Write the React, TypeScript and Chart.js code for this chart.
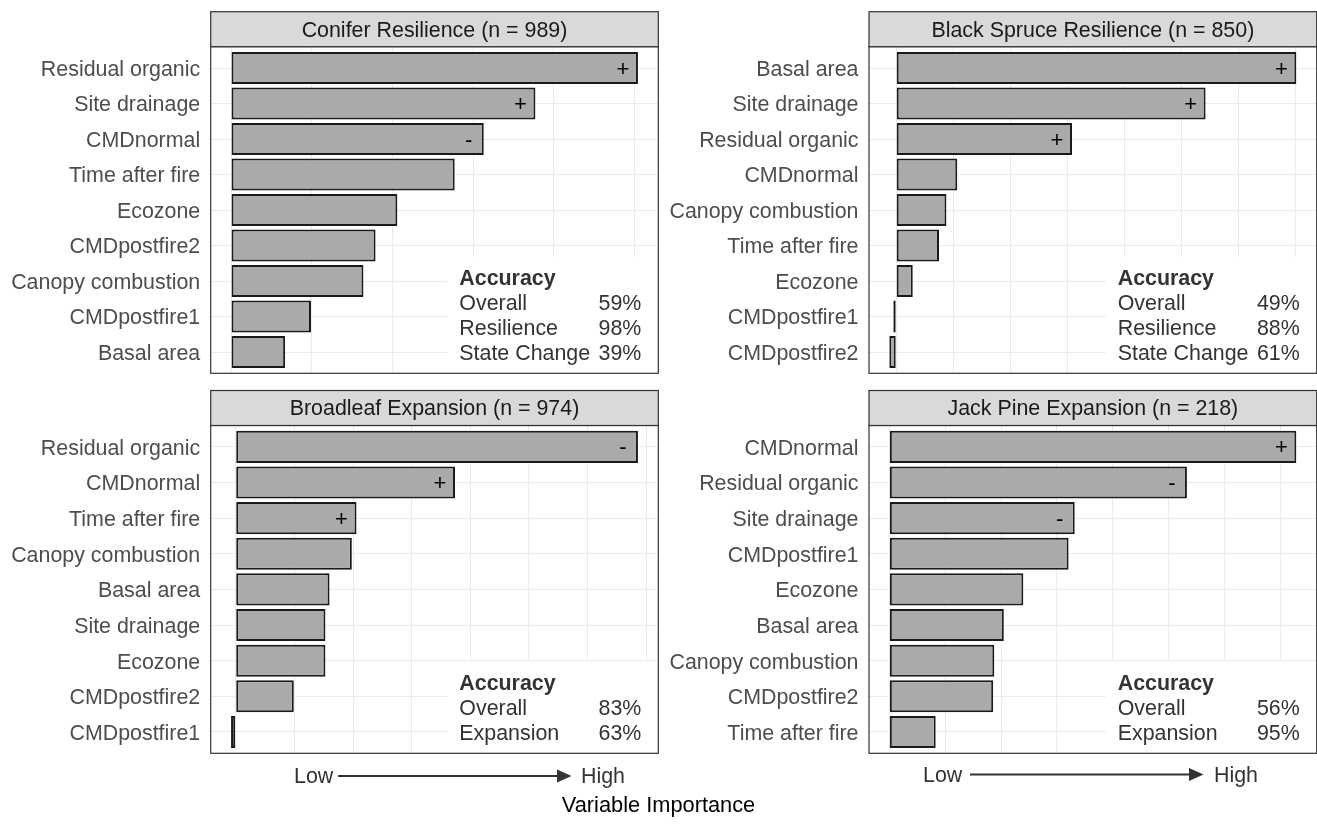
import React, { useEffect, useRef } from "react";
import { Chart, registerables } from "chart.js";

Chart.register(...registerables);

const FONT = '"Liberation Sans", Arial, Helvetica, sans-serif';

// ---------- data ----------
const coniferTitle = "Conifer Resilience (n = 989)";
const coniferLabels = ["Residual organic", "Site drainage", "CMDnormal", "Time after fire", "Ecozone", "CMDpostfire2", "Canopy combustion", "CMDpostfire1", "Basal area"];
const coniferValues = [5.04, 3.77, 3.13, 2.77, 2.06, 1.79, 1.64, 0.99, 0.67];
const coniferSigns = ["+", "+", "-", "", "", "", "", "", ""];
const coniferAcc = ["59%", "98%", "39%"];

const spruceTitle = "Black Spruce Resilience (n = 850)";
const spruceLabels = ["Basal area", "Site drainage", "Residual organic", "CMDnormal", "Canopy combustion", "Time after fire", "Ecozone", "CMDpostfire1", "CMDpostfire2"];
const spruceValues = [7.01, 5.42, 3.08, 1.07, 0.88, 0.75, 0.29, -0.05, -0.12];
const spruceSigns = ["+", "+", "+", "", "", "", "", "", ""];
const spruceAcc = ["49%", "88%", "61%"];

const broadleafTitle = "Broadleaf Expansion (n = 974)";
const broadleafLabels = ["Residual organic", "CMDnormal", "Time after fire", "Canopy combustion", "Basal area", "Site drainage", "Ecozone", "CMDpostfire2", "CMDpostfire1"];
const broadleafValues = [6.86, 3.74, 2.06, 1.98, 1.6, 1.53, 1.53, 0.99, -0.08];
const broadleafSigns = ["-", "+", "+", "", "", "", "", "", ""];
const broadleafAcc = ["83%", "63%"];

const jackPineTitle = "Jack Pine Expansion (n = 218)";
const jackPineLabels = ["CMDnormal", "Residual organic", "Site drainage", "CMDpostfire1", "Ecozone", "Basal area", "Canopy combustion", "CMDpostfire2", "Time after fire"];
const jackPineValues = [7.29, 5.33, 3.32, 3.21, 2.4, 2.05, 1.88, 1.86, 0.83];
const jackPineSigns = ["+", "-", "-", "", "", "", "", "", ""];
const jackPineAcc = ["56%", "95%"];

const resilienceAccLabels = ["Overall", "Resilience", "State Change"];
const expansionAccLabels = ["Overall", "Expansion"];
const accuracyHeader = "Accuracy";
const lowLabel = "Low";
const highLabel = "High";
const axisTitle = "Variable Importance";

// ---------- layout ----------
type Spec = {
  title: string;
  labels: string[];
  values: number[];
  signs: string[];
  accLabels: string[];
  accValues: string[];
  x: number;
  y: number;
  w: number;
  h: number;
  axisW: number;
  padTop: number;
  padBottom: number;
  padRight: number;
};

const panels: Spec[] = [
  { title: coniferTitle, labels: coniferLabels, values: coniferValues, signs: coniferSigns, accLabels: resilienceAccLabels, accValues: coniferAcc, x: 0, y: 0, w: 660, h: 380, axisW: 210.7, padTop: 46.7, padBottom: 6.7, padRight: 1.7 },
  { title: spruceTitle, labels: spruceLabels, values: spruceValues, signs: spruceSigns, accLabels: resilienceAccLabels, accValues: spruceAcc, x: 660, y: 0, w: 657, h: 380, axisW: 209, padTop: 46.7, padBottom: 6.7, padRight: 0.3 },
  { title: broadleafTitle, labels: broadleafLabels, values: broadleafValues, signs: broadleafSigns, accLabels: expansionAccLabels, accValues: broadleafAcc, x: 0, y: 380, w: 660, h: 390, axisW: 210.7, padTop: 45.5, padBottom: 16.7, padRight: 1.7 },
  { title: jackPineTitle, labels: jackPineLabels, values: jackPineValues, signs: jackPineSigns, accLabels: expansionAccLabels, accValues: jackPineAcc, x: 660, y: 380, w: 657, h: 390, axisW: 209, padTop: 45.5, padBottom: 16.7, padRight: 0.3 },
];

const STRIP_H = 35;
const FS = 21.4;

function decorPlugin(spec: Spec) {
  const boxGeom = (ca: any) => {
    const n = spec.accLabels.length + 1;
    const lastY = ca.bottom - 21;
    const firstY = lastY - (n - 1) * 25;
    return { firstY, boxTop: firstY - 21, boxLeft: ca.right - 211 };
  };
  return {
    id: "decor",
    beforeDatasetsDraw(chart: any) {
      const { ctx, chartArea: ca } = chart;
      const g = boxGeom(ca);
      ctx.save();
      ctx.fillStyle = "#ffffff";
      ctx.fillRect(g.boxLeft, g.boxTop, ca.right - g.boxLeft, ca.bottom - g.boxTop);
      ctx.restore();
    },
    afterDatasetsDraw(chart: any) {
      const { ctx, chartArea: ca } = chart;
      ctx.save();
      // importance direction signs
      const meta = chart.getDatasetMeta(0);
      ctx.font = `22px ${FONT}`;
      ctx.fillStyle = "#000000";
      ctx.textAlign = "center";
      ctx.textBaseline = "middle";
      meta.data.forEach((el: any, i: number) => {
        const s = spec.signs[i];
        if (s) ctx.fillText(s, el.x - 15, el.y + 1.5);
      });
      // accuracy table
      const g = boxGeom(ca);
      const tx = ca.right - 199;
      const rx = ca.right - 17;
      const dy = 1.5;
      ctx.fillStyle = "#333333";
      ctx.textAlign = "left";
      ctx.font = `bold ${FS}px ${FONT}`;
      ctx.fillText(accuracyHeader, tx, g.firstY + dy);
      ctx.font = `${FS}px ${FONT}`;
      spec.accLabels.forEach((lab, i) => {
        const y = g.firstY + (i + 1) * 25 + dy;
        ctx.textAlign = "left";
        ctx.fillText(lab, tx, y);
        ctx.textAlign = "right";
        ctx.fillText(spec.accValues[i], rx, y);
      });
      ctx.restore();
    },
    afterDraw(chart: any) {
      const { ctx, chartArea: ca } = chart;
      ctx.save();
      ctx.strokeStyle = "#333333";
      ctx.lineWidth = 1.2;
      ctx.strokeRect(ca.left, ca.top, ca.right - ca.left, ca.bottom - ca.top);
      // strip
      const st = ca.top - STRIP_H;
      ctx.fillStyle = "#d9d9d9";
      ctx.fillRect(ca.left, st, ca.right - ca.left, STRIP_H);
      ctx.strokeRect(ca.left, st, ca.right - ca.left, STRIP_H);
      ctx.fillStyle = "#1a1a1a";
      ctx.font = `${FS}px ${FONT}`;
      ctx.textAlign = "center";
      ctx.textBaseline = "middle";
      ctx.fillText(spec.title, (ca.left + ca.right) / 2, st + STRIP_H / 2 + 1.5);
      ctx.restore();
    },
  };
}

function Panel({ spec }: { spec: Spec }) {
  const ref = useRef<HTMLCanvasElement>(null);
  useEffect(() => {
    const lo = Math.min(0, ...spec.values);
    const hi = Math.max(0, ...spec.values);
    const ex = (hi - lo) * 0.05;
    const chart = new Chart(ref.current as HTMLCanvasElement, {
      type: "bar",
      data: {
        datasets: [
          {
            data: spec.values.map((v, i) => ({ x: v, y: i })),
            backgroundColor: "#aaaaaa",
            borderColor: "#1a1a1a",
            borderWidth: 2,
            borderSkipped: false,
            barPercentage: 0.9,
            categoryPercentage: 1,
          } as any,
        ],
      },
      options: {
        indexAxis: "y",
        animation: false,
        responsive: false,
        maintainAspectRatio: false,
        events: [],
        layout: { padding: { left: 0, right: spec.padRight, top: spec.padTop, bottom: spec.padBottom } },
        plugins: { legend: { display: false }, tooltip: { enabled: false }, title: { display: false } },
        scales: {
          x: {
            type: "linear",
            position: "bottom",
            min: lo - ex,
            max: hi + ex,
            offset: false,
            ticks: { display: false, stepSize: 1 },
            grid: { color: "#ebebeb", lineWidth: 1, drawTicks: false, offset: false },
            border: { display: false },
            afterBuildTicks: (s: any) => {
              const t: any[] = [];
              for (let v = Math.ceil(s.min); v <= Math.floor(s.max); v++) t.push({ value: v });
              s.ticks = t;
            },
            afterFit: (s: any) => {
              s.height = 0;
              s.paddingLeft = 0;
              s.paddingRight = 0;
            },
          },
          y: {
            type: "linear",
            position: "left",
            min: -0.6,
            max: spec.labels.length - 0.4,
            reverse: true,
            offset: false,
            ticks: {
              stepSize: 1,
              autoSkip: false,
              padding: 10.5,
              labelOffset: 2,
              color: "#4d4d4d",
              font: { family: FONT, size: FS },
              callback: (v: any) => spec.labels[Math.round(v)] ?? "",
            },
            grid: { color: "#ebebeb", lineWidth: 1, drawTicks: false, offset: false },
            border: { display: false },
            afterBuildTicks: (s: any) => {
              s.ticks = spec.labels.map((_, i) => ({ value: i }));
            },
            afterFit: (s: any) => {
              s.width = spec.axisW;
              s.paddingTop = 0;
              s.paddingBottom = 0;
            },
          },
        } as any,
      },
      plugins: [decorPlugin(spec) as any],
    });
    return () => chart.destroy();
  }, [spec]);
  return (
    <canvas
      ref={ref}
      width={spec.w}
      height={spec.h}
      style={{ position: "absolute", left: spec.x, top: spec.y, width: spec.w, height: spec.h }}
    />
  );
}

const textStyle: React.CSSProperties = {
  position: "absolute",
  fontFamily: FONT,
  fontSize: FS,
  lineHeight: "24px",
  color: "#333333",
  whiteSpace: "nowrap",
};

export default function App() {
  return (
    <div style={{ position: "absolute", left: 0, top: 0, width: 1317, height: 827, background: "#ffffff", overflow: "hidden" }}>
      {panels.map((p, i) => (
        <Panel key={i} spec={p} />
      ))}
      <div style={{ ...textStyle, left: 294, top: 764 }}>{lowLabel}</div>
      <div style={{ ...textStyle, left: 581, top: 764 }}>{highLabel}</div>
      <div style={{ ...textStyle, left: 923, top: 762.5 }}>{lowLabel}</div>
      <div style={{ ...textStyle, left: 1214, top: 762.5 }}>{highLabel}</div>
      <svg width={1317} height={827} style={{ position: "absolute", left: 0, top: 0 }}>
        <line x1={338} y1={776} x2={558} y2={776} stroke="#333333" strokeWidth={2} />
        <polygon points="557,769.5 571.5,776 557,782.5" fill="#333333" />
        <line x1={970} y1={774.5} x2={1190} y2={774.5} stroke="#333333" strokeWidth={2} />
        <polygon points="1189,768 1203.5,774.5 1189,781" fill="#333333" />
      </svg>
      <div
        style={{
          position: "absolute",
          left: 0,
          top: 792,
          width: 1317,
          textAlign: "center",
          fontFamily: FONT,
          fontSize: 21.8,
          lineHeight: "26px",
          color: "#000000",
        }}
      >
        {axisTitle}
      </div>
    </div>
  );
}
